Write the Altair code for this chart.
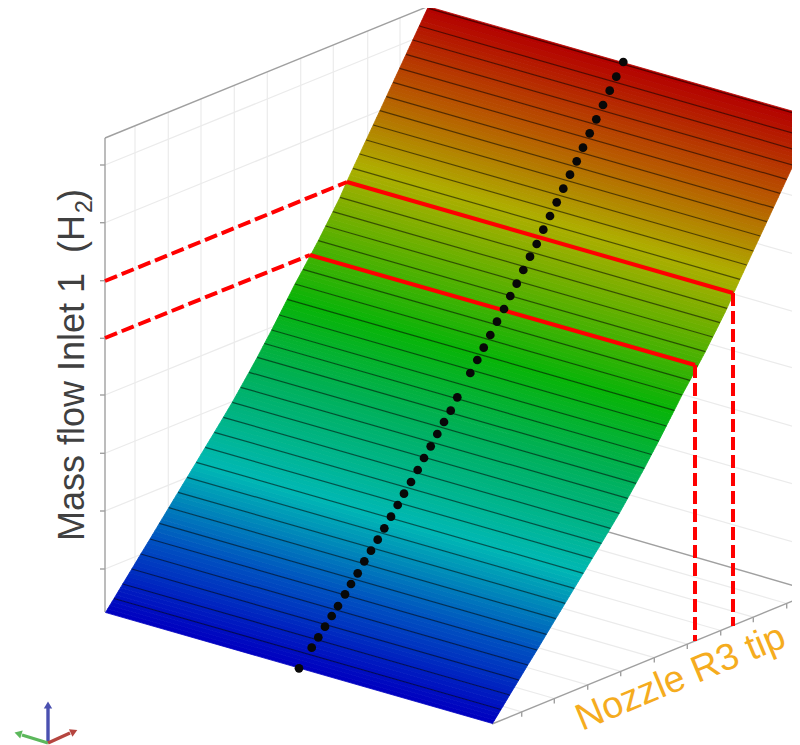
import altair as alt
import pandas as pd

# left ends of the ribs of the surface, bottom to top (picture coordinates)
rib_left_x = [105.5, 114, 122.7, 131.8, 140.8, 150, 159.4, 168.8, 178.1, 187.2, 196.3, 205.3, 214.4, 223.4, 232.3, 240.7, 249, 257.3, 264.5,
              271.7, 279.3, 287.3, 295, 303, 310.7, 318.3, 325.7, 332.9, 340, 346.7, 353, 359.7, 366.2, 373.2, 379.9, 386.4, 393.1,
              399.6, 406.1, 412.8, 419.3, 428.3]
rib_left_y = [612.5, 598.5, 584, 569, 554, 539, 523.3, 507.7, 492.3, 477.3, 462.3, 447.3, 432.3, 417.3, 402.3, 387.3, 372.3, 357.3, 343.5,
              330, 315, 299.3, 284, 269.3, 255, 240.7, 226, 211.7, 197.3, 182, 168.3, 154, 140, 125, 110.7, 96.7, 82.3,
              68.3, 54.3, 40, 26, 6.7]
rib_dx, rib_dy = 387, 111

color_pos = [612, 540, 463, 370, 300, 230, 165, 90, 6]
color_val = ["#0000c0", "#0050c0", "#00b8b4", "#00b058", "#08b408", "#60b000", "#aeae00", "#b85800", "#b40000"]

dot_x = [623.3, 616.3, 609.7, 603, 596.3, 589.7, 583, 576.7, 570, 563.3, 556.7, 550, 543.3, 536.7, 530, 523.3, 516.7, 510.3, 504, 497,
         490.3, 483.7, 477.3, 470.3, 457.3, 450.7, 444, 437.3, 430.7, 424, 417.7, 411, 404, 397.7, 391, 384.3, 377.7, 371, 364.3,
         357.7, 351, 345, 338, 331.7, 325, 318.3, 311.7, 299]
dot_y = [62, 76.7, 90.7, 105, 119.3, 133.3, 147.7, 161.3, 174.7, 188.7, 202.3, 216, 229.7, 244, 256.7, 270, 283.7, 296, 309, 321.7,
         335, 347.7, 360, 373, 397.3, 410.7, 422, 434, 446.3, 458, 470, 482, 493.7, 505, 516.7, 528.3, 539.7, 550.7, 561.3,
         573.3, 584, 594.3, 606, 616, 626.7, 637.3, 647.7, 668.3]

wall_tick_y = [165, 222.7, 280.7, 338.3, 395, 453.3, 511, 569]
wall_grid_x = [135, 168.3, 201, 234.3, 267.3, 300.7, 333.3, 367.7, 400]
floor_tick_x = [521.7, 554.3, 587.7, 620.7, 654.3, 687.3, 720.7, 753.3, 786.7]

X0, X1, Y0, Y1 = 8, 792, 745, 8
xs = alt.Scale(domain=[X0, X1], nice=False, zero=False)
ys = alt.Scale(domain=[Y0, Y1], nice=False, zero=False)
ENC_X = alt.X("x:Q", scale=xs, axis=None)
ENC_Y = alt.Y("y:Q", scale=ys, axis=None)


def segs(rows, **mark):
    df = pd.DataFrame(rows, columns=["x", "y", "x2", "y2"])
    return alt.Chart(df).mark_rule(clip=True, **mark).encode(ENC_X, ENC_Y, x2="x2:Q", y2="y2:Q")


# surface strips
slope = rib_dy / rib_dx
rows = []
SUB = 4
sid = 0
for i in range(len(rib_left_x) - 1):
    for k in range(SUB):
        a, b = k / SUB, (k + 1) / SUB
        x0 = rib_left_x[i] + a * (rib_left_x[i + 1] - rib_left_x[i])
        y0 = rib_left_y[i] + a * (rib_left_y[i + 1] - rib_left_y[i])
        x1 = rib_left_x[i] + b * (rib_left_x[i + 1] - rib_left_x[i])
        y1 = rib_left_y[i] + b * (rib_left_y[i + 1] - rib_left_y[i])
        c = (y0 + y1) / 2
        rows += [
            dict(s=sid, c=c, x=x0, y=y0, y2=y0),
            dict(s=sid, c=c, x=x1, y=y1, y2=y0 + (x1 - x0) * slope),
            dict(s=sid, c=c, x=x0 + rib_dx, y=y1 + (x0 + rib_dx - x1) * slope, y2=y0 + rib_dy),
            dict(s=sid, c=c, x=x1 + rib_dx, y=y1 + rib_dy, y2=y1 + rib_dy),
        ]
        sid += 1
cs = alt.Scale(domain=color_pos, range=color_val, interpolate="rgb")
surface = alt.Chart(pd.DataFrame(rows)).mark_area(clip=True, strokeWidth=0.8, opacity=1).encode(
    ENC_X, ENC_Y, y2="y2:Q", detail="s:N",
    fill=alt.Fill("c:Q", scale=cs, legend=None),
    stroke=alt.Stroke("c:Q", scale=cs, legend=None),
)

# wall and floor grid
grid = []
for t in wall_tick_y:
    grid.append((105, t, 429, t - 132))
    grid.append((429, t - 132, 800, t - 132 + 371 * 0.2885))
for gx in wall_grid_x:
    grid.append((gx, 138 - (gx - 105) * 0.4074, gx, 612 - (gx - 105) * 0.4074))
axis_y = [724 - (t - 492) * 0.409 for t in floor_tick_x]
for t, a in zip(floor_tick_x, axis_y):
    grid.append((t, a, t - 200, a - 200 * 0.2868))
grid_l = segs(grid, color="#ebebeb", strokeWidth=1.2)

outline = [(105, 138, 429, 6), (105, 138, 105, 612), (429, 480, 800, 587.5), (492, 724, 800, 598)]
outline += [(100, t, 105, t) for t in wall_tick_y]
outline += [(t, a, t, a + 5) for t, a in zip(floor_tick_x, axis_y)]
outline_l = segs(outline, color="#a0a0a0", strokeWidth=1.4)

ribs = [(x, y, x + rib_dx, y + rib_dy) for x, y in zip(rib_left_x[1:], rib_left_y[1:])]
ribs[-1] = (rib_left_x[-1] + 1, rib_left_y[-1] + 2, rib_left_x[-1] + 1 + rib_dx, rib_left_y[-1] + 2 + rib_dy)
rib_l = segs(ribs, color="#000000", opacity=0.55, strokeWidth=1.2)

red_solid = segs([(347, 182, 733, 293), (310, 255, 695, 365)], color="#ff0000", strokeWidth=4)
red_dash = segs([(105, 281, 347, 182), (105, 338, 310, 255), (695, 365, 695, 641), (733, 293, 733, 626)],
                color="#ff0000", strokeWidth=4, strokeDash=[13, 5])

dots = alt.Chart(pd.DataFrame({"x": dot_x, "y": dot_y})).mark_circle(size=76, color="#080808", opacity=1).encode(ENC_X, ENC_Y)

def txt(text, x, y, size, angle, color, align="left"):
    return alt.Chart(pd.DataFrame({"x": [x], "y": [y], "t": [text]})).mark_text(
        font="Liberation Sans", fontSize=size, angle=angle, align=align, baseline="alphabetic", color=color
    ).encode(ENC_X, ENC_Y, text="t:N")

label = [
    txt("Mass flow Inlet 1\u00a0 (H", 84, 541, 36, 270, "#404040"),
    txt("2", 92, 213, 23, 270, "#404040"),
    txt(")", 84, 201, 36, 270, "#404040"),
    txt("Nozzle R3 tip", 582, 731, 37.5, 337.5, "#F5AC1E"),
]

# orientation triad
triad = []
for (x, y, x2, y2, col) in [(48, 743, 48, 708, "#4a50b0"), (48, 743, 22, 735, "#5cb85c"), (48, 743, 70, 733, "#b5453f")]:
    triad.append(segs([(x, y, x2, y2)], color=col, strokeWidth=3.4))
for (x, y, ang, col) in [(48, 705, 0, "#4a50b0"), (18, 733.5, 287, "#5cb85c"), (74, 731.5, 65, "#b5453f")]:
    triad.append(alt.Chart(pd.DataFrame({"x": [x], "y": [y]})).mark_point(
        shape="triangle-up", filled=True, size=70, color=col, angle=ang, opacity=1).encode(ENC_X, ENC_Y))

chart = alt.layer(grid_l, outline_l, surface, rib_l, red_dash, red_solid, dots, *label, *triad).properties(
    width=X1 - X0, height=Y0 - Y1, padding=0, autosize=alt.AutoSizeParams(type="none")
).configure_view(stroke=None)

chart.save("out.html", embed_options={"renderer": "svg", "actions": False})
